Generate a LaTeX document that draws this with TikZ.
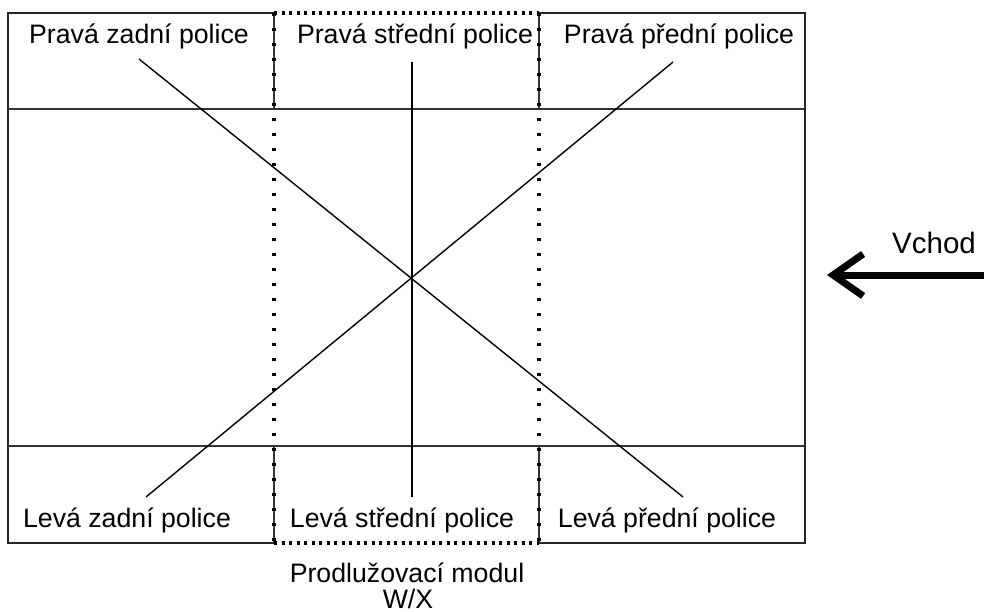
\documentclass[tikz,border=0pt]{standalone}
\usepackage{fontspec}
\setmainfont{Liberation Sans}
\usetikzlibrary{positioning,arrows.meta}

\begin{document}
\begin{tikzpicture}[x=1pt,y=-1pt,
                    police/.style={anchor=base,inner sep=0pt,font=\fontsize{26.7}{26.7}\selectfont},
                    ramec/.style={draw=black!85,line width=2.2pt},
                    deleni/.style={draw=black!80,line width=1.5pt},
                    carka/.style={draw=black,line width=1.4pt},
                    teckyH/.style={draw=black,line width=3.2pt,dash pattern=on 3.2pt off 4.3pt},
                    teckyV/.style={draw=black,line width=3.2pt,dash pattern=on 3.2pt off 11.8pt},
                    >={Straight Barb[length=30pt,width=42pt]}]
  \useasboundingbox (0,0) rectangle (984,612);
  % ram regalu, prerusen tam, kde je modul
  \draw[ramec] (274,13) -- (8,13) -- (8,543) -- (274,543);
  \draw[ramec] (539,13) -- (805,13) -- (805,543) -- (539,543);
  \draw[deleni] (8,109) -- (805,109) (8,446) -- (805,446);
  \draw[deleni] (274,13) -- (274,109) (539,13) -- (539,109);
  \draw[deleni] (274,446) -- (274,543) (539,446) -- (539,543);
  % prodluzovaci modul
  \draw[teckyH] (274,13) -- (539,13) (274,543) -- (539,543);
  \draw[teckyV] (274,13) -- (274,543) (539,13) -- (539,543);

  \node[police] (pzText) at (139,44) {Pravá zadní police};
  \node[police] (psText) at (415,44) {Pravá střední police};
  \node[police] (ppText) at (679,44) {Pravá přední police};
  \node[police] (lzText) at (127,527) {Levá zadní police};
  \node[police] (lsText) at (402,527) {Levá střední police};
  \node[police] (lpText) at (667,527) {Levá přední police};
  \node[police] (modul) at (407,582) {Prodlužovací modul};
  \node[police] (wx) at (408,608) {W/X};
  \node[police,anchor=base west,font=\fontsize{29.5}{29.5}\selectfont] (vchod) at (892,253) {Vchod};

  \coordinate (pz) at (139,59);
  \coordinate (ps) at (412,62);
  \coordinate (pp) at (673,62);
  \coordinate (lz) at (146,497);
  \coordinate (ls) at (412,497);
  \coordinate (lp) at (683,497);
  \draw[carka] (pz) -- (lp);
  \draw[carka] (pp) -- (lz);
  \draw[carka] (ps) -- (ls);

  \coordinate (vstup) at (984,275);
  \coordinate (cil) at (827,275);
  \draw[->,line width=7pt] (vstup) -- (cil);
\end{tikzpicture}
\end{document}
